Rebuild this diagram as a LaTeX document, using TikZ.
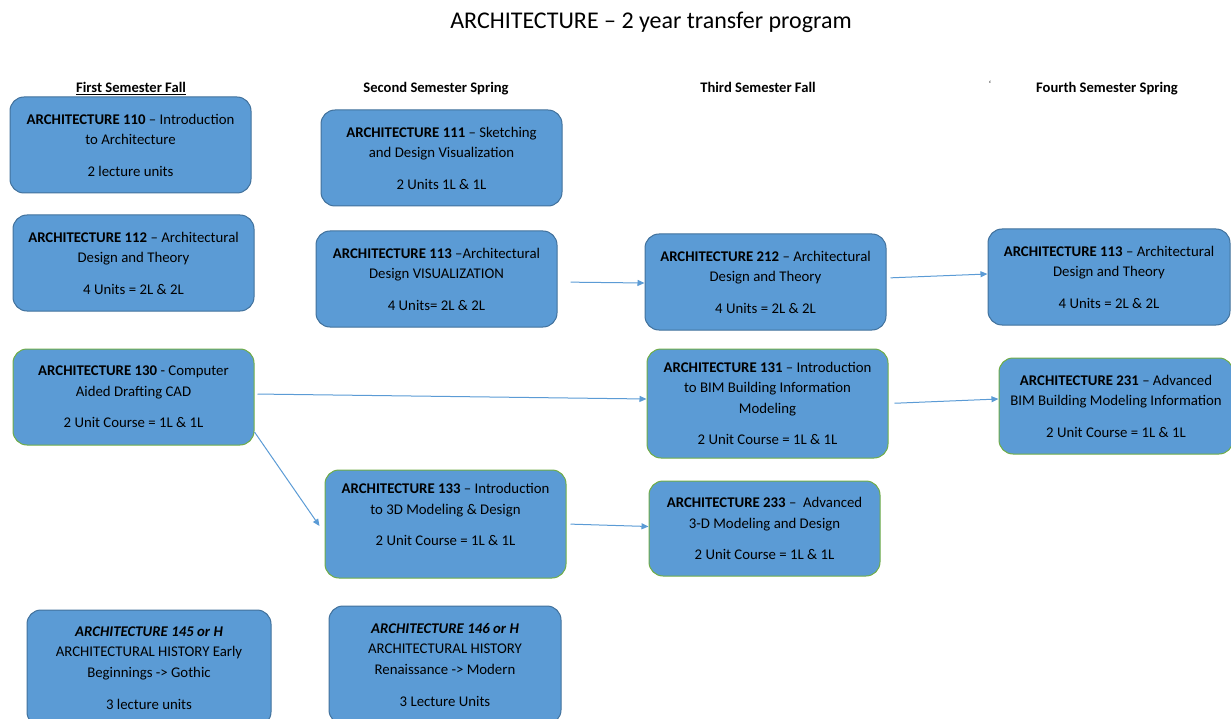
\documentclass[tikz,border=0pt]{standalone}
\usepackage{fontspec}
\setmainfont{Carlito}
\usepackage{tikz}
\usetikzlibrary{arrows.meta}
\definecolor{boxfill}{HTML}{5B9BD5}
\definecolor{boxline}{HTML}{41719C}
\definecolor{cadline}{HTML}{70AD47}
\definecolor{arrowcol}{HTML}{5B9BD5}
\tikzstyle{course} = [rectangle, rounded corners=14pt, draw=boxline, line width=1pt, fill=boxfill, align=center, minimum width=241pt, minimum height=96pt, inner sep=0pt, font=\fontsize{14.8}{20.5}\selectfont]
\tikzstyle{cadcourse} = [course, draw=cadline]
\tikzstyle{semester} = [anchor=base, font=\fontsize{14.6}{16}\selectfont\bfseries]
\tikzstyle{arrow} = [line width=1pt, draw=arrowcol, -{Triangle[length=7pt,width=6pt]}]

\begin{document}
\begin{tikzpicture}[x=1pt, y=-1pt]

\useasboundingbox (0,0) rectangle (1231,719);

\node (title) [anchor=base] at (651,29) {\fontsize{24}{26}\selectfont ARCHITECTURE -- 2 year transfer program};

\node (sem1) [semester] at (131,93) {\underline{First Semester Fall}};
\node (sem2) [semester] at (436,93) {Second Semester Spring};
\node (sem3) [semester] at (758,93) {Third Semester Fall};
\node (sem4) [semester] at (1107,93) {Fourth Semester Spring};
\node (tick) [font=\small] at (990,84) {\symbol{96}};

% first semester
\node (c110) [course] at (130.5,145) {\textbf{ARCHITECTURE 110} -- Introduction\\to Architecture\\[11pt]2 lecture units};
\node (c112) [course] at (133.5,263) {\textbf{ARCHITECTURE 112} -- Architectural\\Design and Theory\\[11pt]4 Units = 2L \& 2L};
\node (c130) [cadcourse] at (133.5,397) {\textbf{ARCHITECTURE 130} - Computer\\Aided Drafting CAD\\[11pt]2 Unit Course = 1L \& 1L};
\node (c145) [course, minimum width=244pt, minimum height=116pt] at (149,668) {\textbf{\textit{ARCHITECTURE 145 or H}}\\ARCHITECTURAL HISTORY Early\\Beginnings -> Gothic\\[12pt]3 lecture units};

% second semester
\node (c111) [course] at (441.5,158) {\textbf{ARCHITECTURE 111} -- Sketching\\and Design Visualization\\[11pt]2 Units 1L \& 1L};
\node (c113) [course] at (436.5,279) {\textbf{ARCHITECTURE 113} --Architectural\\Design VISUALIZATION\\[11pt]4 Units= 2L \& 2L};
\node (c133) [cadcourse, minimum height=108pt] at (445.5,524) {\textbf{ARCHITECTURE 133} -- Introduction\\to 3D Modeling \& Design\\[11pt]2 Unit Course = 1L \& 1L\\[-2pt]};
\node (c146) [course, minimum width=232pt, minimum height=118pt] at (445,665) {\textbf{\textit{ARCHITECTURE 146 or H}}\\ARCHITECTURAL HISTORY\\Renaissance -> Modern\\[12pt]3 Lecture Units};

% third semester
\node (c212) [course] at (765.5,282) {\textbf{ARCHITECTURE 212} -- Architectural\\Design and Theory\\[11pt]4 Units = 2L \& 2L};
\node (c131) [cadcourse, minimum height=109pt] at (767.5,403.5) {\textbf{ARCHITECTURE 131} -- Introduction\\to BIM Building Information\\Modeling\\[11pt]2 Unit Course = 1L \& 1L};
\node (c233) [cadcourse, minimum width=231pt, minimum height=95pt] at (764.5,528.5) {\textbf{ARCHITECTURE 233} --\ \ Advanced\\3-D Modeling and Design\\[11pt]2 Unit Course = 1L \& 1L};

% fourth semester
\node (c113b) [course, minimum width=242pt] at (1109,277) {\textbf{ARCHITECTURE 113} -- Architectural\\Design and Theory\\[11pt]4 Units = 2L \& 2L};
\node (c231) [cadcourse, minimum width=234pt] at (1116,406) {\textbf{ARCHITECTURE 231} -- Advanced\\BIM Building Modeling Information\\[11pt]2 Unit Course = 1L \& 1L};

\draw [arrow, shorten <=13pt] ([yshift=-3pt]c113.east) -- ([yshift=-1pt]c212.west);
\draw [arrow, shorten <=4pt] ([yshift=4pt]c212.east) -- ([yshift=3pt]c113b.west);
\draw [arrow, shorten <=3pt] ([yshift=3pt]c130.east) -- ([yshift=4.5pt]c131.west);
\draw [arrow] ([yshift=-35pt]c130.east) -- ([yshift=-2pt, xshift=-5pt]c133.west);
\draw [arrow, shorten <=4pt] (c133.east) -- ([yshift=2pt]c233.west);
\draw [arrow, shorten <=6pt] (c131.east) -- ([yshift=7pt]c231.west);

\end{tikzpicture}
\end{document}
